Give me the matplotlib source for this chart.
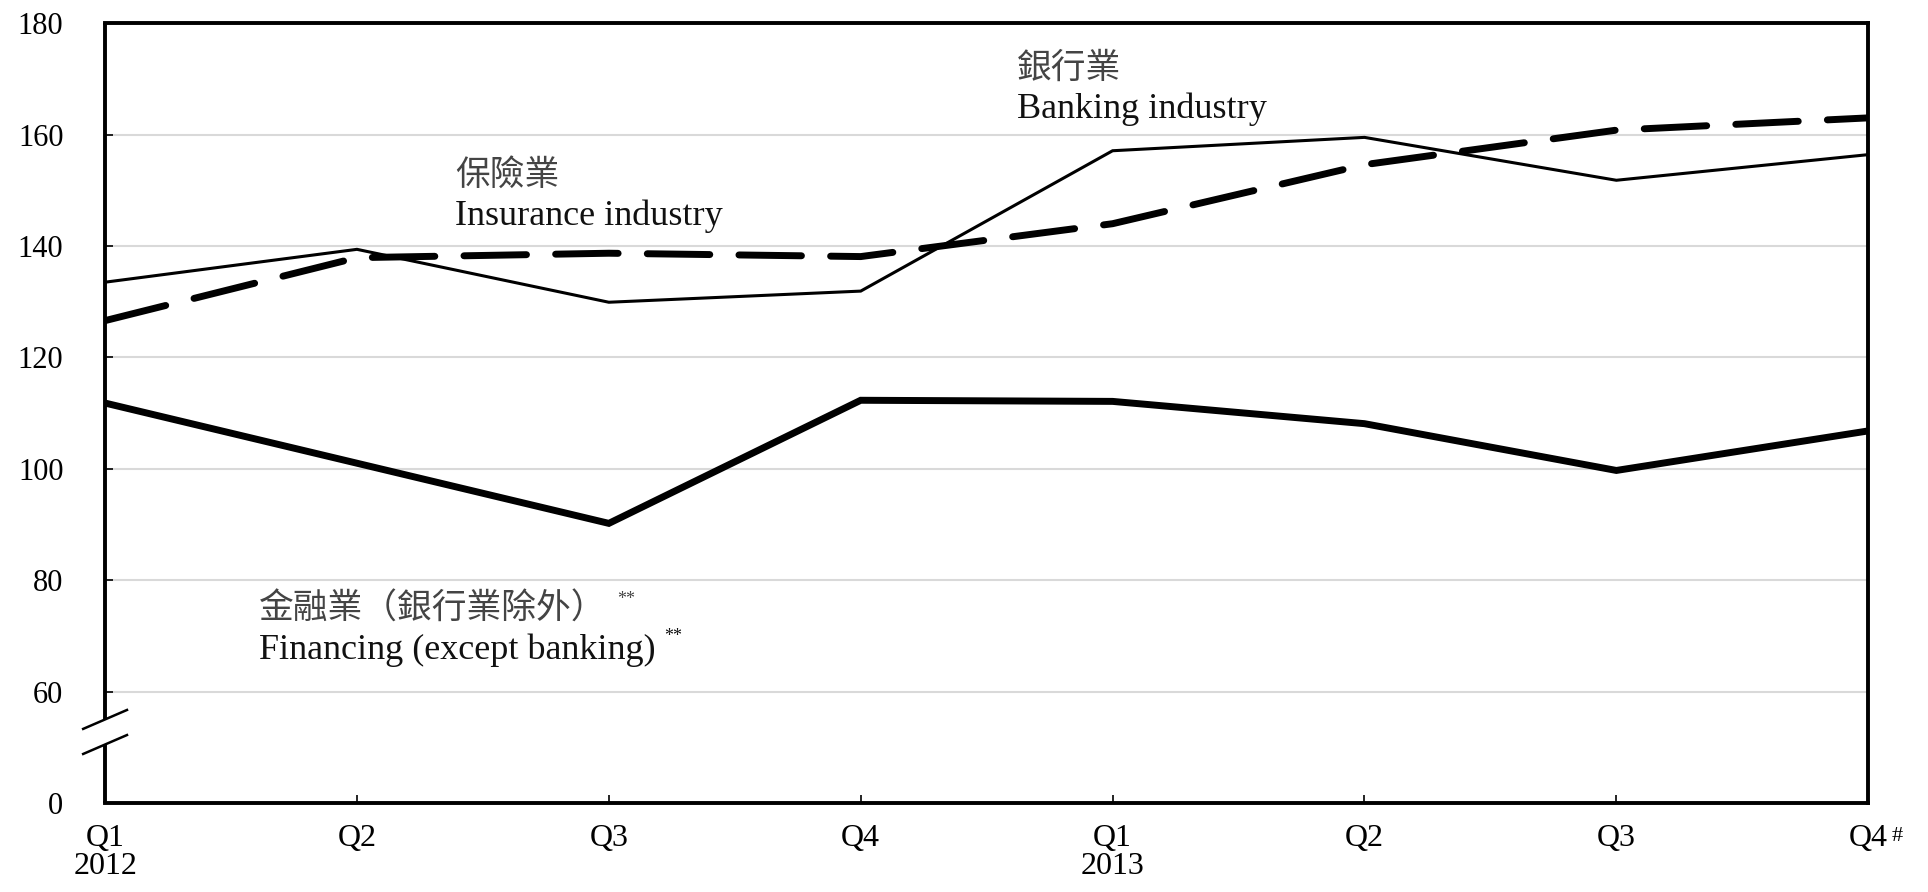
import matplotlib
matplotlib.use('Agg')
import matplotlib.pyplot as plt

quarters = ['Q1\n2012', 'Q2', 'Q3', 'Q4', 'Q1\n2013', 'Q2', 'Q3', 'Q4']
banking = [133.5, 139.4, 129.9, 131.9, 157.1, 159.5, 151.8, 156.4]
insurance = [126.6, 137.9, 138.7, 138.1, 144.0, 154.6, 160.8, 163.0]
financing = [111.8, 101.0, 90.2, 112.3, 112.1, 108.1, 99.7, 106.8]
yticks = [40, 60, 80, 100, 120, 140, 160, 180]
ytick_labels = ['0', '60', '80', '100', '120', '140', '160', '180']

serif = ['Liberation Serif', 'Noto Sans CJK TC']
plt.rcParams['font.family'] = serif

fig = plt.figure(figsize=(19.28, 8.92), dpi=100)
ax = fig.add_axes([0.0545, 0.0998, 0.9145, 0.8742])

x = list(range(len(quarters)))
ax.plot(x, banking, color='black', lw=2.2, solid_joinstyle='miter')
ax.plot(x, insurance, color='black', lw=5, dashes=(9, 4.2), dash_capstyle='round')
ax.plot(x, financing, color='black', lw=5, solid_joinstyle='miter')

ax.set_xlim(0, 7)
ax.set_ylim(40, 180)
ax.set_xticks(x)
ax.set_xticklabels(quarters, fontsize=23, linespacing=0.95)
ax.set_yticks(yticks)
ax.set_yticklabels(ytick_labels, fontsize=22)
ax.tick_params(axis='y', direction='in', length=6, width=1.2, pad=30)
ax.tick_params(axis='x', direction='in', length=6, width=1.2, pad=15)

for v in yticks[1:-1]:
    ax.axhline(v, color='#d9d9d9', lw=1.5, zorder=0)

for s in ['top', 'right', 'bottom']:
    ax.spines[s].set_linewidth(2.8)
ax.spines['left'].set_visible(False)

# broken y axis
lo, hi = 50.5, 55.0
ax.plot([0, 0], [40, lo], color='black', lw=2.8, clip_on=False, solid_capstyle='butt')
ax.plot([0, 0], [hi, 180], color='black', lw=2.8, clip_on=False, solid_capstyle='butt')
for yc in (lo, hi):
    ax.plot([-0.087, 0.087], [yc - 1.7, yc + 1.7], color='black', lw=1.8, clip_on=False)

zh_color = '#444444'
en_color = '#111111'
zh_size = 25
en_size = 26
ax.text(3.62, 171.8, '銀行業', fontsize=zh_size, color=zh_color, va='center')
ax.text(3.62, 164.6, 'Banking industry', fontsize=en_size, color=en_color, va='center')
ax.text(1.39, 152.6, '保險業', fontsize=zh_size, color=zh_color, va='center')
ax.text(1.39, 145.4, 'Insurance industry', fontsize=en_size, color=en_color, va='center')
t1 = ax.text(0.61, 74.6, '金融業（銀行業除外）', fontsize=zh_size, color=zh_color, va='center')
t2 = ax.text(0.61, 67.5, 'Financing (except banking)', fontsize=en_size, color=en_color, va='center')
ax.annotate('**', xy=(1, 1), xycoords=t1, xytext=(8, 2), textcoords='offset points',
            fontsize=13, color=zh_color, va='top')
ax.annotate('**', xy=(1, 1), xycoords=t2, xytext=(6, 4), textcoords='offset points',
            fontsize=13, color=en_color, va='top')
ax.annotate('#', xy=(7, 0), xycoords=('data', 'axes fraction'), xytext=(17, -17),
            textcoords='offset points', fontsize=16, va='top')

fig.savefig('out.png', dpi=100)
